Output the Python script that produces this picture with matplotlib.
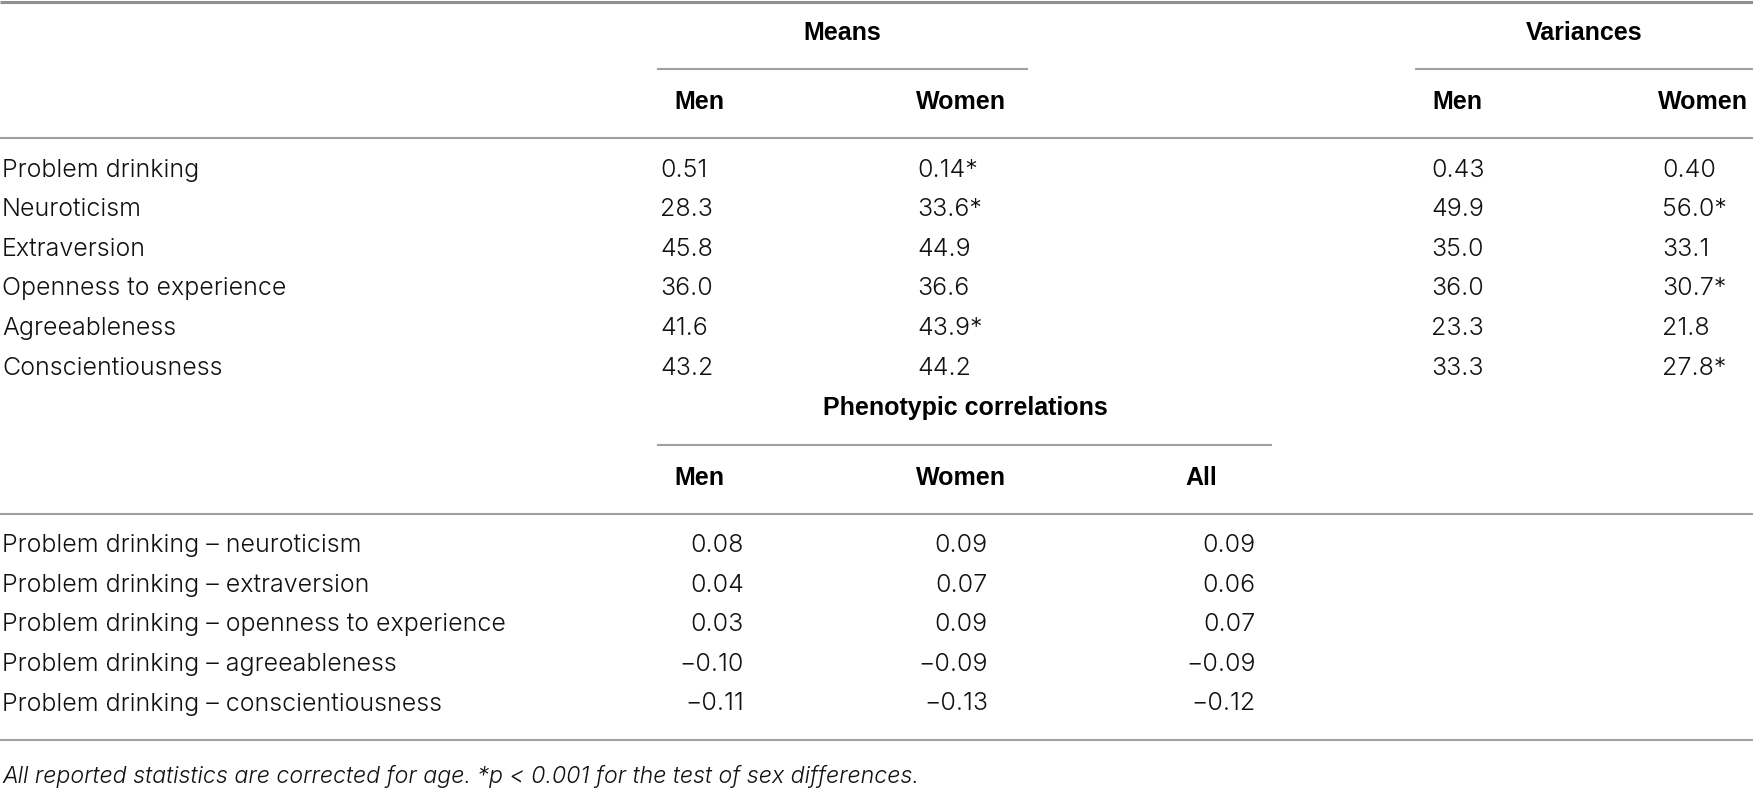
import matplotlib
matplotlib.use('Agg')
from matplotlib import pyplot as plt

''' --------------------------- data ----------------------------------'''
traits = ['Problem drinking', 'Neuroticism', 'Extraversion',
          'Openness to experience', 'Agreeableness', 'Conscientiousness']
trait_dec = [2, 1, 1, 1, 1, 1]
means_men = [0.51, 28.3, 45.8, 36.0, 41.6, 43.2]
means_women = [0.14, 33.6, 44.9, 36.6, 43.9, 44.2]
means_women_sig = [True, True, False, False, True, False]
var_men = [0.43, 49.9, 35.0, 36.0, 23.3, 33.3]
var_women = [0.40, 56.0, 33.1, 30.7, 21.8, 27.8]
var_women_sig = [False, True, False, True, False, True]

corr_labels = ['Problem drinking \u2013 neuroticism',
               'Problem drinking \u2013 extraversion',
               'Problem drinking \u2013 openness to experience',
               'Problem drinking \u2013 agreeableness',
               'Problem drinking \u2013 conscientiousness']
corr_men = [0.08, 0.04, 0.03, -0.10, -0.11]
corr_women = [0.09, 0.07, 0.09, -0.09, -0.13]
corr_all = [0.09, 0.06, 0.07, -0.09, -0.12]

footnote = ('All reported statistics are corrected for age. '
            '*p < 0.001 for the test of sex differences.')

''' --------------------------- layout ----------------------------------'''
W, H = 1753, 788
BODY = ['Inter', 'Liberation Sans', 'DejaVu Sans']
HEAD = ['Liberation Sans', 'DejaVu Sans']
FS = 18
rule_c = '#a0a0a0'


def fmt(v, d):
    return '{:.{}f}'.format(v, d).replace('-', '\u2212')


fig = plt.figure(figsize=(W / 100, H / 100), dpi=100)
ax = fig.add_axes([0, 0, 1, 1])
ax.set_xlim(0, W)
ax.set_ylim(H, 0)
ax.axis('off')


def rule(y, x0=0, x1=W, lw=1.5, c=rule_c):
    ax.plot([x0, x1], [y, y], color=c, lw=lw, solid_capstyle='butt')


def txt(x, y, s, ha='left', italic=False, fs=FS):
    ax.text(x, y, s, ha=ha, va='center', fontsize=fs, family=BODY,
            fontweight=300, fontstyle='italic' if italic else 'normal',
            color='#111111')


def head(x, y, s, ha='left'):
    ax.text(x, y, s, ha=ha, va='center', fontsize=18, family=HEAD,
            fontweight='bold', color='#000000')


# top block
rule(1.5, lw=2.2, c='#909090')
head(842, 33, 'Means', ha='center')
head(1584, 33, 'Variances', ha='center')
rule(69, 657, 1028)
rule(69, 1415, W)
for x, s in [(674, 'Men'), (916, 'Women'), (1432, 'Men'), (1658, 'Women')]:
    head(x, 102, s)
rule(137.5)

y0, dy = 170, 39.6
for i, t in enumerate(traits):
    y = y0 + i * dy
    d = trait_dec[i]
    txt(2, y, t)
    txt(660, y, fmt(means_men[i], d))
    txt(917, y, fmt(means_women[i], d) + ('*' if means_women_sig[i] else ''))
    txt(1431, y, fmt(var_men[i], d))
    txt(1662, y, fmt(var_women[i], d) + ('*' if var_women_sig[i] else ''))

# correlations block
head(965, 408, 'Phenotypic correlations', ha='center')
rule(445, 657, 1272)
for x, s in [(674, 'Men'), (916, 'Women'), (1185, 'All')]:
    head(x, 478, s)
rule(514)

y0 = 545.6
for i, t in enumerate(corr_labels):
    y = y0 + i * dy
    txt(2, y, t)
    txt(744, y, fmt(corr_men[i], 2), ha='right')
    txt(988, y, fmt(corr_women[i], 2), ha='right')
    txt(1256, y, fmt(corr_all[i], 2), ha='right')
rule(740)

txt(2, 776, footnote, italic=True, fs=16.7)

plt.savefig('out.png', dpi=100)
